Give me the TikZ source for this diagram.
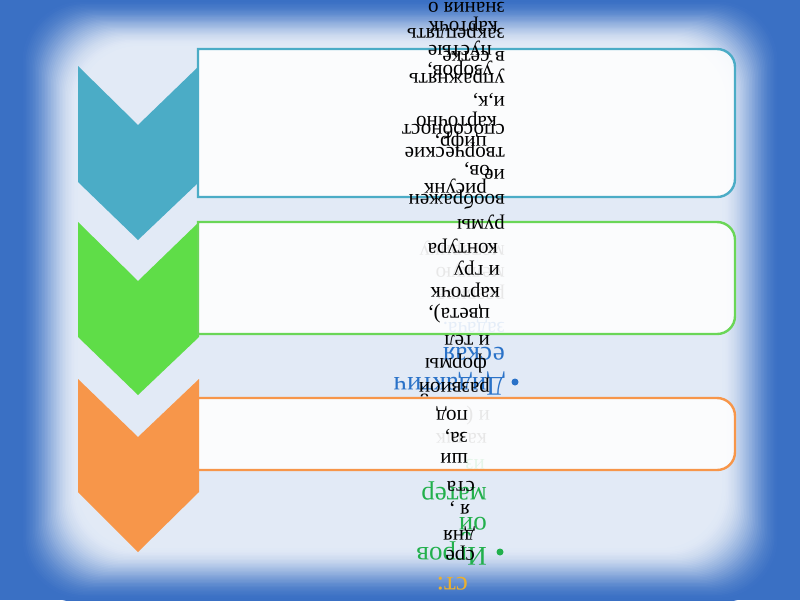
\documentclass[tikz,border=0pt]{standalone}
\usepackage{fontspec}
\setmainfont{Liberation Serif}
\definecolor{bgblue}{HTML}{3A70C4}
\definecolor{bglight}{HTML}{E2EAF6}
\definecolor{tealc}{HTML}{4BACC6}
\definecolor{greenc}{HTML}{5FDD48}
\definecolor{greenb}{HTML}{6AD657}
\definecolor{orangec}{HTML}{F7964A}
\definecolor{txtblue}{HTML}{2A72C8}
\definecolor{txtgreen}{HTML}{22B04C}
\definecolor{txtgold}{HTML}{EBB02F}
\begin{document}
\begin{tikzpicture}[x=1pt,y=-1pt,
  blk/.style={rotate=180,anchor=mid west,inner sep=0pt,font=\fontsize{21}{25}\selectfont,text=black},
  colt/.style={rotate=180,anchor=mid west,inner sep=0pt,font=\fontsize{27}{31}\selectfont},
  faint/.style={rotate=180,anchor=mid west,inner sep=0pt,font=\fontsize{21}{25}\selectfont,text=black!75},
  card/.style={fill=white,fill opacity=0.88,line width=2.4pt},
  bul/.style={circle,inner sep=0pt,minimum size=7pt}
]
\useasboundingbox (0,0) rectangle (800,600);
% background vignette (opaque nested rings, smooth step)
\fill[bgblue] (0,0) rectangle (800,600);
\foreach \i [evaluate=\i as \p using {int(100*(3*(\i/40)^2-2*(\i/40)^3))}] in {0,...,40}{
  \fill[bglight!\p!bgblue,rounded corners=60pt] (18+1.5*\i,-2+1.2*\i) rectangle (782-1.5*\i,602-1.35*\i);
}
% coloured text lying under the cards
\node[colt,text=txtblue] (d1) at (505,380) {Дидактич};
\node[bul,fill=txtblue] (b1) at (515,382) {};
\node[colt,text=txtblue] (d2) at (505,350) {еская};
\node[faint,text=txtblue] (d3) at (505,325) {задача.};
\node[faint] (d4) at (505,292) {развива};
\node[faint] (d5) at (505,270) {мелкую};
\node[faint] (d6) at (505,248) {моторику};
\node[faint] (g4) at (490,413) {и (};
\node[faint] (g5) at (487,436) {ка шк};
\node[faint,text=txtgreen] (g6) at (485,462) {из};
\node[colt,text=txtgreen] (g1) at (487,490) {матер};
\node[colt,text=txtgreen] (g2) at (487,520) {ой};
\node[colt,text=txtgreen] (g3) at (487,550) {Игров};
\node[bul,fill=txtgreen] (b2) at (500,552) {};
\node[colt,text=txtgold] (o1) at (468,580) {ст:};
% chevrons
\fill[tealc] (78,66) -- (138,125) -- (199,66) -- (199,182) -- (138,240) -- (78,182) -- cycle;
\fill[greenc] (78,222) -- (138,281) -- (199,222) -- (199,337) -- (138,395) -- (78,337) -- cycle;
\fill[orangec] (78,379) -- (138,437) -- (199,379) -- (199,492) -- (138,552) -- (78,492) -- cycle;
% cards
\draw[card,draw=tealc] (198,49) -- (717,49) .. controls (727,49) and (735,57) .. (735,67) -- (735,179) .. controls (735,189) and (727,197) .. (717,197) -- (198,197) -- cycle;
\draw[card,draw=greenb] (198,222) -- (717,222) .. controls (727,222) and (735,230) .. (735,240) -- (735,316) .. controls (735,326) and (727,334) .. (717,334) -- (198,334) -- cycle;
\draw[card,draw=orangec] (198,398) -- (717,398) .. controls (727,398) and (735,406) .. (735,416) -- (735,452) .. controls (735,462) and (727,470) .. (717,470) -- (198,470) -- cycle;
% black text, column one
\node[blk] (a1) at (505,5) {знания о};
\node[blk] (a2) at (505,31) {закреплять};
\node[blk] (a3) at (505,54) {в сетке};
\node[blk] (a4) at (505,76) {упражнять};
\node[blk] (a5) at (505,99) {и,к,};
\node[blk] (a6) at (505,127) {способност};
\node[blk] (a7) at (505,150) {творческие};
\node[blk] (a8) at (505,172) {ие};
\node[blk] (a9) at (505,197) {воображен};
\node[blk] (a10) at (505,222) {румы};
% black text, column two
\node[blk] (c1) at (498,24) {карточк};
\node[blk] (c2) at (492,48) {пустые};
\node[blk] (c3) at (493,68) {узоров,};
\node[blk] (c4) at (497,119) {карточно};
\node[blk] (c5) at (487,139) {цифр,};
\node[blk] (c6) at (490,168) {ов,};
\node[blk] (c7) at (487,186) {рисунк};
\node[blk] (c8) at (498,246) {контура};
\node[blk] (c9) at (500,268) {и гру};
\node[blk] (c10) at (500,290) {карточк};
\node[blk] (c11) at (490,311) {цвета),};
\node[blk] (c12) at (490,338) {и тел};
\node[blk] (c13) at (487,361) {формы};
\node[blk] (c14) at (490,385) {развиой};
\node[blk] (c15) at (468,413) {под};
\node[blk] (c16) at (468,435) {за,};
\node[blk] (c17) at (468,456) {ши};
\node[blk] (c18) at (475,484) {ста};
\node[blk] (c19) at (470,507) {я ,};
\node[blk] (c20) at (475,533) {дня};
\node[blk] (c21) at (475,553) {сре};
\end{tikzpicture}
\end{document}
